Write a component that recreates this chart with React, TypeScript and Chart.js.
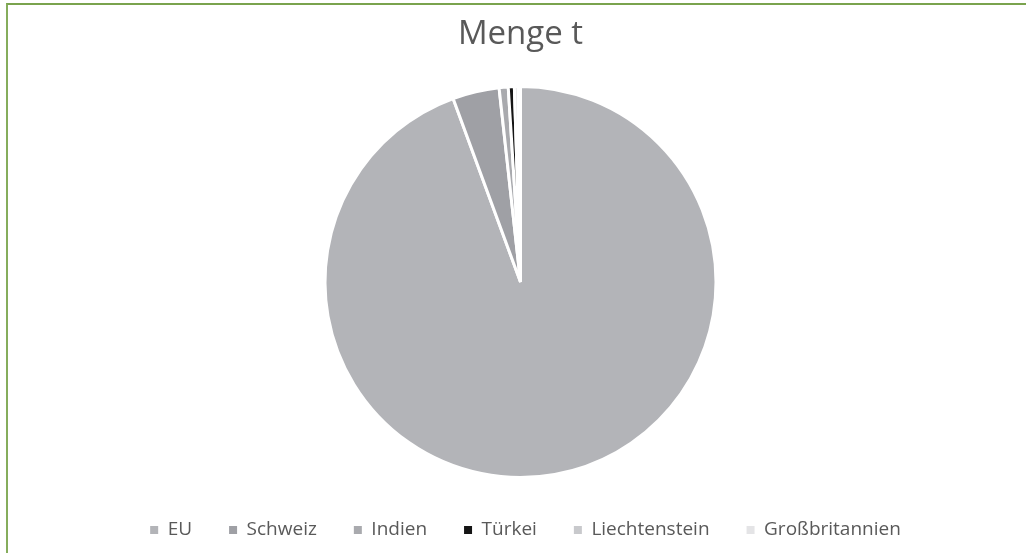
import React, { useEffect, useRef } from "react";
import { Chart, registerables } from "chart.js";

Chart.register(...registerables);

const categories = ["EU", "Schweiz", "Indien", "Türkei", "Liechtenstein", "Großbritannien"];
const mengeValues = [94.4, 3.85, 0.75, 0.5, 0.3, 0.2];
const sliceColors = ["#b3b4b8", "#9fa0a5", "#a9aaae", "#151515", "#c8c9cc", "#e4e4e6"];
const chartTitle = "Menge t";

const legendShift = {
  id: "legendShift",
  afterLayout(chart: any) {
    if (chart.legend) {
      chart.legend.left += 5;
      chart.legend.right += 5;
    }
  },
};

export default function App() {
  const canvasRef = useRef<HTMLCanvasElement | null>(null);

  useEffect(() => {
    document.body.style.margin = "0";
    const canvas = canvasRef.current;
    if (!canvas) return;
    const chart = new Chart(canvas, {
      type: "pie",
      data: {
        labels: categories,
        datasets: [
          {
            data: mengeValues,
            backgroundColor: sliceColors,
            borderColor: "#ffffff",
            borderWidth: 3,
            radius: 195.5,
            hoverOffset: 0,
          },
        ],
      },
      options: {
        animation: false,
        responsive: false,
        maintainAspectRatio: false,
        events: [],
        layout: { padding: { left: 15, right: 0, top: 0, bottom: 3.5 } },
        plugins: {
          tooltip: { enabled: false },
          title: {
            display: true,
            text: chartTitle,
            color: "#595959",
            font: { family: "'Open Sans', sans-serif", size: 33, weight: "normal", lineHeight: 1.2 },
            padding: { top: 15, bottom: 25.9 },
          },
          legend: {
            display: true,
            position: "bottom",
            labels: {
              color: "#595959",
              font: { family: "'Open Sans', sans-serif", size: 19 },
              boxWidth: 8,
              boxHeight: 8,
              padding: 37,
              generateLabels: (ch: any) => {
                const base = (Chart as any).overrides.pie.plugins.legend.labels.generateLabels(ch);
                return base.map((l: any) => ({ ...l, lineWidth: 0, strokeStyle: "rgba(0,0,0,0)" }));
              },
            },
          },
        },
      } as any,
      plugins: [legendShift],
    });
    return () => chart.destroy();
  }, []);

  return (
    <div style={{ position: "relative", width: 1026, height: 553, overflow: "hidden", background: "#ffffff" }}>
      <canvas ref={canvasRef} width={1026} height={553} style={{ position: "absolute", left: 0, top: 0 }} />
      <div
        style={{
          position: "absolute",
          left: 6,
          top: 3,
          width: 1040,
          height: 570,
          borderLeft: "2px solid #86ad5c",
          borderTop: "2px solid #7aa34e",
          pointerEvents: "none",
        }}
      />
    </div>
  );
}
